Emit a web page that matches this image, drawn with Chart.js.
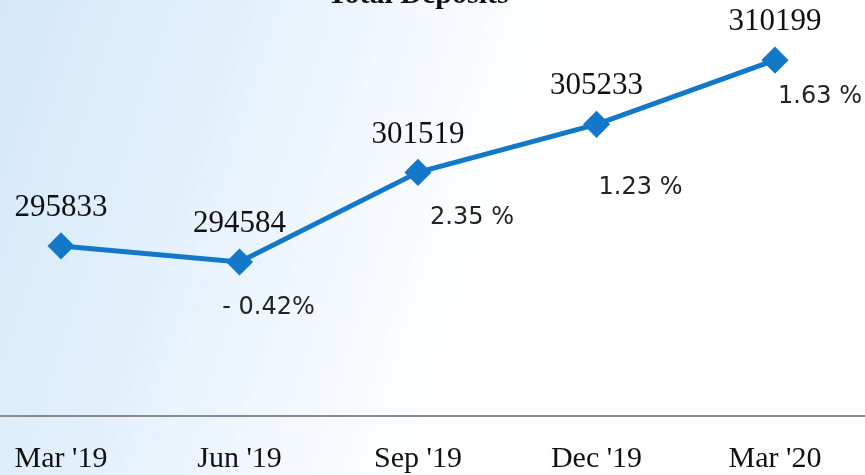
<!DOCTYPE html>
<html>
<head>
<meta charset="utf-8">
<script src="https://cdn.jsdelivr.net/npm/chart.js@4.4.0/dist/chart.umd.min.js"></script>
<style>
  html, body { margin: 0; padding: 0; width: 865px; height: 475px; overflow: hidden; }
  body { background: linear-gradient(108deg, #d4e8f9 0%, #e4f1fc 25%, #ffffff 55%); position: relative; }
  #wrap { position: absolute; left: 0; top: -26px; width: 865px; height: 528px; }
</style>
</head>
<body>
<div id="wrap"><canvas id="chart"></canvas></div>
<script>
// quarters on the x axis
const quarters = ["Mar '19", "Jun '19", "Sep '19", "Dec '19", "Mar '20"]
// total deposits
const deposits = [295833, 294584, 301519, 305233, 310199]
// quarter on quarter growth labels
const growth = ['', '- 0.42%', '2.35 %', '1.23 %', '1.63 %']
// where each growth label sits relative to its point
const growthOffsets = [null, [29, 46], [54, 45], [44, 63], [45, 37]]

const lineBlue = '#1478c8'

// value and growth labels + the long axis line
const labelPlugin = {
    id: 'labels',
    afterDatasetsDraw(chart) {
        const ctx = chart.ctx
        const meta = chart.getDatasetMeta(0)
        ctx.save()
        ctx.textAlign = 'center'
        ctx.textBaseline = 'middle'
        meta.data.forEach((pt, i) => {
            ctx.fillStyle = '#111'
            ctx.font = '31px "Liberation Serif", "Times New Roman", serif'
            ctx.fillText(String(deposits[i]), pt.x, pt.y - 38)
            if (growthOffsets[i]) {
                ctx.fillStyle = '#222'
                ctx.font = '24px "DejaVu Sans", sans-serif'
                ctx.fillText(growth[i], pt.x + growthOffsets[i][0], pt.y + growthOffsets[i][1])
            }
        })
        ctx.restore()
    },
    beforeDatasetsDraw(chart) {
        const ctx = chart.ctx
        const y = chart.chartArea.bottom
        ctx.save()
        ctx.strokeStyle = '#8a8a8a'
        ctx.lineWidth = 2
        ctx.beginPath()
        ctx.moveTo(0, y)
        ctx.lineTo(chart.width, y)
        ctx.stroke()
        ctx.restore()
    }
}

var context = document.getElementById('chart').getContext('2d');
new Chart(context, {
    type: 'line',
    data: {
        labels: quarters,
        datasets: [{
            label: 'Total Deposits',
            data: deposits,
            borderColor: lineBlue,
            backgroundColor: lineBlue,
            borderWidth: 5,
            pointStyle: 'rectRot',
            pointRadius: 10,
            pointHoverRadius: 10,
            pointBackgroundColor: lineBlue,
            pointBorderColor: lineBlue,
            tension: 0,
            clip: false
        }]
    },
    options: {
        responsive: true,
        maintainAspectRatio: false,
        animation: false,
        layout: {
            padding: { left: 61, right: 90, top: 0, bottom: 0 }
        },
        plugins: {
            legend: { display: false },
            tooltip: { enabled: false },
            title: {
                display: true,
                text: 'Total Deposits',
                color: '#111',
                font: { family: '"Liberation Serif", "Times New Roman", serif', size: 30, weight: 'bold' },
                padding: { top: 3, bottom: 10 }
            }
        },
        scales: {
            x: {
                offset: false,
                grid: { display: false, drawTicks: false },
                border: { display: false },
                ticks: {
                    color: '#111',
                    padding: 25,
                    maxRotation: 0,
                    autoSkip: false,
                    font: { family: '"Liberation Serif", "Times New Roman", serif', size: 30 }
                },
                afterFit(scale) {
                    // keep the points where the layout padding puts them
                    scale.paddingLeft = 0
                    scale.paddingRight = 0
                }
            },
            y: {
                display: false,
                min: 282680,
                max: 313070
            }
        }
    },
    plugins: [labelPlugin]
});
</script>
</body>
</html>
